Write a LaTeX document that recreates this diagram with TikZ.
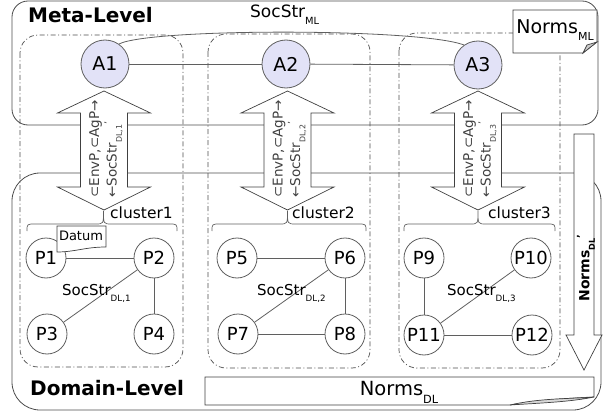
\documentclass[tikz,border=0pt]{standalone}
\usepackage{fontspec}
\setmainfont{DejaVu Sans}
\definecolor{lav}{RGB}{226,226,247}
\definecolor{ln}{RGB}{95,95,95}
\newcommand\fs[1]{\fontsize{#1}{#1}\selectfont}
\newcommand\sbs[1]{\raisebox{-0.4em}{\scalebox{0.58}{#1}}}
\tikzset{
 agent/.style={circle, draw=ln, line width=0.8pt, fill=lav, minimum size=48pt, inner sep=0pt, font=\fs{19}},
 pn/.style={circle, draw=ln, line width=0.8pt, fill=white, minimum size=40pt, inner sep=0pt, font=\fs{18}},
 conn/.style={draw=ln, line width=0.8pt},
 ddot/.style={draw=black!70, line width=0.7pt, dash pattern=on 5pt off 2.5pt on 1pt off 2.5pt},
 outer/.style={draw=black!70, line width=0.8pt},
 blk/.style={draw=black!75, line width=0.7pt, fill=white},
 lbl/.style={inner sep=0pt, anchor=west},
}
\begin{document}
\begin{tikzpicture}[x=1pt,y=-1pt]
\useasboundingbox (0,0) rectangle (603,412);
% outer level boxes
\draw[outer, rounded corners=16pt] (12,1) rectangle (598,125);
\draw[outer, rounded corners=28pt] (12,173) rectangle (601,410);
% cluster columns
\draw[ddot, rounded corners=18pt] (20,35) rectangle (183,367);
\draw[ddot, rounded corners=18pt] (208,34) rectangle (370,368);
\draw[ddot, rounded corners=18pt] (399,33) rectangle (560,368);
% agents
\node[agent] (A1) at (105,64) {A1};
\node[agent] (A2) at (286,64) {A2};
\node[agent] (A3) at (478,65) {A3};
\draw[conn] (A1) -- (A2);
\draw[conn] (A2) -- (A3);
\draw[conn] (A1.55) .. controls (150,28) and (420,28) .. (A3.125);
\node[lbl, font=\bfseries\fs{20}] (ml) at (28,15) {Meta-Level};
\node[lbl, font=\fs{17}] (sml) at (250,15) {SocStr\sbs{ML}};
% Norms ML note
\draw[blk] (513,10) -- (597,10) -- (597,42) -- (583,53) -- (513,53) -- cycle;
\draw[blk, fill=gray!40] (583,53) -- (597,42) -- (587,45) -- cycle;
\node[font=\fs{19}, inner sep=0pt] (nml) at (555,30) {Norms\sbs{ML}};
% double block arrows
\foreach \cx/\n in {104/1,287.5/2,478/3}{
  \draw[blk] (\cx,91) -- (\cx+46.5,113) -- (\cx+23.5,113) -- (\cx+23.5,187) -- (\cx+46.5,187)
     -- (\cx,210) -- (\cx-46.5,187) -- (\cx-23.5,187) -- (\cx-23.5,113) -- (\cx-46.5,113) -- cycle;
  \node[rotate=90, align=left, font=\fontsize{13.5}{17.5}\selectfont, text=black!75, inner sep=0pt]
     (t\n) at (\cx+2,149) {⊂EnvP,⊂AgP→\\←SocStr\sbs{DL,\n}\textsuperscript{'}};
}
% braces
\foreach \a/\c/\b in {27/103.5/177, 212/287.5/366, 404/478/555}{
  \draw[ln, line width=0.7pt] (\a,231) .. controls (\a,224) .. (\a+8,224) -- (\c-8,224)
     .. controls (\c,224) .. (\c,211) .. controls (\c,224) .. (\c+8,224) -- (\b-8,224)
     .. controls (\b,224) .. (\b,231);
}
\node[lbl, font=\fs{15.5}] (cl1) at (110,213) {cluster1};
\node[lbl, font=\fs{15.5}] (cl2) at (292,213) {cluster2};
\node[lbl, font=\fs{15.5}] (cl3) at (488,213) {cluster3};
% domain nodes
\node[pn] (P1) at (46,258) {P1};
\node[pn] (P2) at (154,258) {P2};
\node[pn] (P3) at (47,334) {P3};
\node[pn] (P4) at (154,334) {P4};
\node[pn] (P5) at (237,258) {P5};
\node[pn] (P6) at (345,258) {P6};
\node[pn] (P7) at (238,334) {P7};
\node[pn] (P8) at (345,334) {P8};
\node[pn] (P9) at (424,258) {P9};
\node[pn] (P10) at (531,258) {P10};
\node[pn] (P11) at (424,335) {P11};
\node[pn] (P12) at (532,335) {P12};
\draw[conn] (P1) -- (P2);
\draw[conn] (P2) -- (P4);
\draw[conn] (P2) -- (P3);
\draw[conn] (P5) -- (P6);
\draw[conn] (P6) -- (P8);
\draw[conn] (P6) -- (P7);
\draw[conn] (P7) -- (P8);
\draw[conn] (P9) -- (P11);
\draw[conn] (P10) -- (P11);
\draw[conn] (P11) -- (P12);
\node[lbl, font=\fs{15}] (s1) at (62,293) {SocStr\sbs{DL,1}};
\node[lbl, font=\fs{15}] (s2) at (257,293) {SocStr\sbs{DL,2}};
\node[lbl, font=\fs{15}] (s3) at (447,293) {SocStr\sbs{DL,3}};
% Datum note
\draw[blk] (57,226) -- (106,226) -- (106,247) .. controls (85,247) and (75,252) .. (57,252) -- cycle;
\node[font=\fs{13}, inner sep=0pt] (dat) at (81,236) {Datum};
% Domain level labels
\node[lbl, font=\bfseries\fs{20}] (dl) at (30,388) {Domain-Level};
\draw[blk] (205,377) -- (594,377) -- (594,397) .. controls (570,398) and (540,400) .. (510,405) -- (205,405) -- cycle;
\draw[blk, fill=gray!30] (510,405) .. controls (540,398) and (570,399) .. (594,397) .. controls (570,402) and (540,403) .. (510,405);
\node[font=\fs{19.5}, inner sep=0pt] (ndl) at (399,392) {Norms\sbs{DL}};
% Norms' DL arrow
\draw[blk] (574,134) -- (594,134) -- (594,335) -- (602,335) -- (584,370) -- (566,335) -- (574,335) -- cycle;
\node[rotate=90, font=\bfseries\fs{14}, inner sep=0pt] (nd) at (586,268) {Norms\sbs{DL}\textsuperscript{'}};
\end{tikzpicture}
\end{document}
